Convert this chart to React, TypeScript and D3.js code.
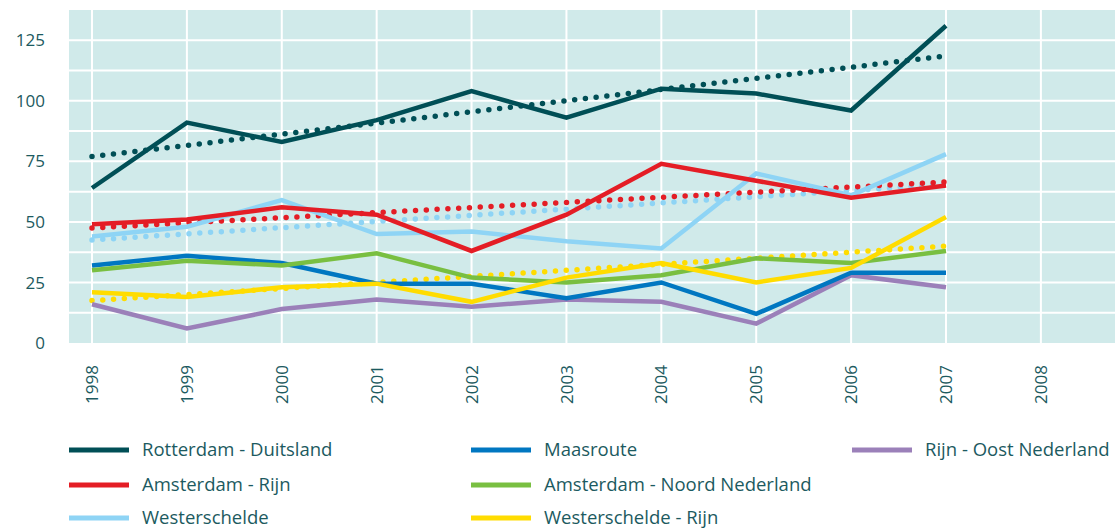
import * as d3 from 'd3';

const YEARS = [1998, 1999, 2000, 2001, 2002, 2003, 2004, 2005, 2006, 2007];
const AXIS_YEARS = [1998, 1999, 2000, 2001, 2002, 2003, 2004, 2005, 2006, 2007, 2008];
const Y_TICKS = [0, 25, 50, 75, 100, 125];

const rotterdamDuitsland = [64, 91, 83, 92, 104, 93, 105, 103, 96, 131];
const amsterdamRijn = [49, 51, 56, 53, 38, 53, 74, 67, 60, 65];
const westerschelde = [44, 48, 59, 45, 46, 42, 39, 70, 61, 78];
const maasroute = [32, 36, 33, 24.5, 24.5, 18.5, 25, 12, 29, 29];
const amsterdamNoord = [30, 34, 32, 37, 27, 25, 28, 35, 33, 38];
const westerscheldeRijn = [21, 19, 23, 24.5, 17, 27, 33, 25, 31, 52];
const rijnOost = [16, 6, 14, 18, 15, 18, 17, 8, 28, 23];

// trend lines: value at 1998 and at 2007
const trendNames = ['Westerschelde', 'Westerschelde - Rijn', 'Amsterdam - Rijn', 'Rotterdam - Duitsland'];
const trendFrom = [42.5, 17.5, 47.5, 77];
const trendTo = [65.5, 40, 66.5, 118.5];

// legend order (column, row)
const series = [
  { name: 'Rotterdam - Duitsland', color: '#004f56', values: rotterdamDuitsland, col: 0, row: 0 },
  { name: 'Maasroute', color: '#0077c1', values: maasroute, col: 1, row: 0 },
  { name: 'Rijn - Oost Nederland', color: '#9b80b9', values: rijnOost, col: 2, row: 0 },
  { name: 'Amsterdam - Rijn', color: '#e41d25', values: amsterdamRijn, col: 0, row: 1 },
  { name: 'Amsterdam - Noord Nederland', color: '#79bf41', values: amsterdamNoord, col: 1, row: 1 },
  { name: 'Westerschelde', color: '#8ed4f5', values: westerschelde, col: 0, row: 2 },
  { name: 'Westerschelde - Rijn', color: '#ffdc00', values: westerscheldeRijn, col: 1, row: 2 },
];

// drawing order, back to front
const drawOrder = [
  'Rijn - Oost Nederland',
  'Maasroute',
  'Amsterdam - Noord Nederland',
  'Westerschelde - Rijn',
  'Westerschelde',
  'Amsterdam - Rijn',
  'Rotterdam - Duitsland',
];

const WIDTH = 1115;
const HEIGHT = 530;
const PLOT = { left: 69, right: 1115, top: 10, bottom: 343 };
const TEXT_COLOR = '#1c5a60';
const FONT = '"Open Sans", "Noto Sans", sans-serif';

export default function App() {
  const x = d3.scaleLinear().domain([1998, 2007]).range([92, 946]);
  const y = d3.scaleLinear().domain([0, 137.5]).range([PLOT.bottom, PLOT.top]);

  const line = d3
    .line<number>()
    .x((_, i) => x(YEARS[i]))
    .y((d) => y(d));

  const hGrid = d3.range(12.5, 137.5, 12.5);
  const byName = new Map(series.map((s) => [s.name, s]));

  const legendCols = [69, 471, 852];
  const legendRows = [450, 485, 518];

  return (
    <svg
      width={WIDTH}
      height={HEIGHT}
      style={{ position: 'absolute', left: 0, top: 0, fontFamily: FONT }}
    >
      <rect
        x={PLOT.left}
        y={PLOT.top}
        width={PLOT.right - PLOT.left}
        height={PLOT.bottom - PLOT.top}
        fill="#d0eaea"
      />
      {hGrid.map((v) => (
        <line key={'h' + v} x1={PLOT.left} x2={PLOT.right} y1={y(v)} y2={y(v)} stroke="#fff" strokeWidth={2} />
      ))}
      {AXIS_YEARS.map((yr) => (
        <line key={'v' + yr} x1={x(yr)} x2={x(yr)} y1={PLOT.top} y2={PLOT.bottom} stroke="#fff" strokeWidth={2} />
      ))}

      {Y_TICKS.map((v) => (
        <text key={'yt' + v} x={45} y={y(v)} dy="0.36em" textAnchor="end" fontSize={17} fill={TEXT_COLOR}>
          {v}
        </text>
      ))}
      {AXIS_YEARS.map((yr) => (
        <text
          key={'xt' + yr}
          transform={`translate(${x(yr)},${365}) rotate(-90)`}
          dy="0.36em"
          textAnchor="end"
          fontSize={17}
          fill={TEXT_COLOR}
        >
          {yr}
        </text>
      ))}

      {trendNames.map((name, i) => {
        const s = byName.get(name)!;
        return (
          <line
            key={'tr' + name}
            x1={x(1998)}
            x2={x(2007)}
            y1={y(trendFrom[i])}
            y2={y(trendTo[i])}
            stroke={s.color}
            strokeWidth={5.5}
            strokeLinecap="round"
            strokeDasharray="0 10.8"
          />
        );
      })}

      {drawOrder.map((name) => {
        const s = byName.get(name)!;
        return (
          <path
            key={'l' + name}
            d={line(s.values) ?? ''}
            fill="none"
            stroke={s.color}
            strokeWidth={4.5}
            strokeLinejoin="miter"
          />
        );
      })}

      {series.map((s) => {
        const cx = legendCols[s.col];
        const cy = legendRows[s.row];
        return (
          <g key={'lg' + s.name}>
            <line x1={cx} x2={cx + 60} y1={cy} y2={cy} stroke={s.color} strokeWidth={5} />
            <text x={cx + 73} y={cy} dy="0.35em" fontSize={18.5} fill={TEXT_COLOR}>
              {s.name}
            </text>
          </g>
        );
      })}
    </svg>
  );
}
